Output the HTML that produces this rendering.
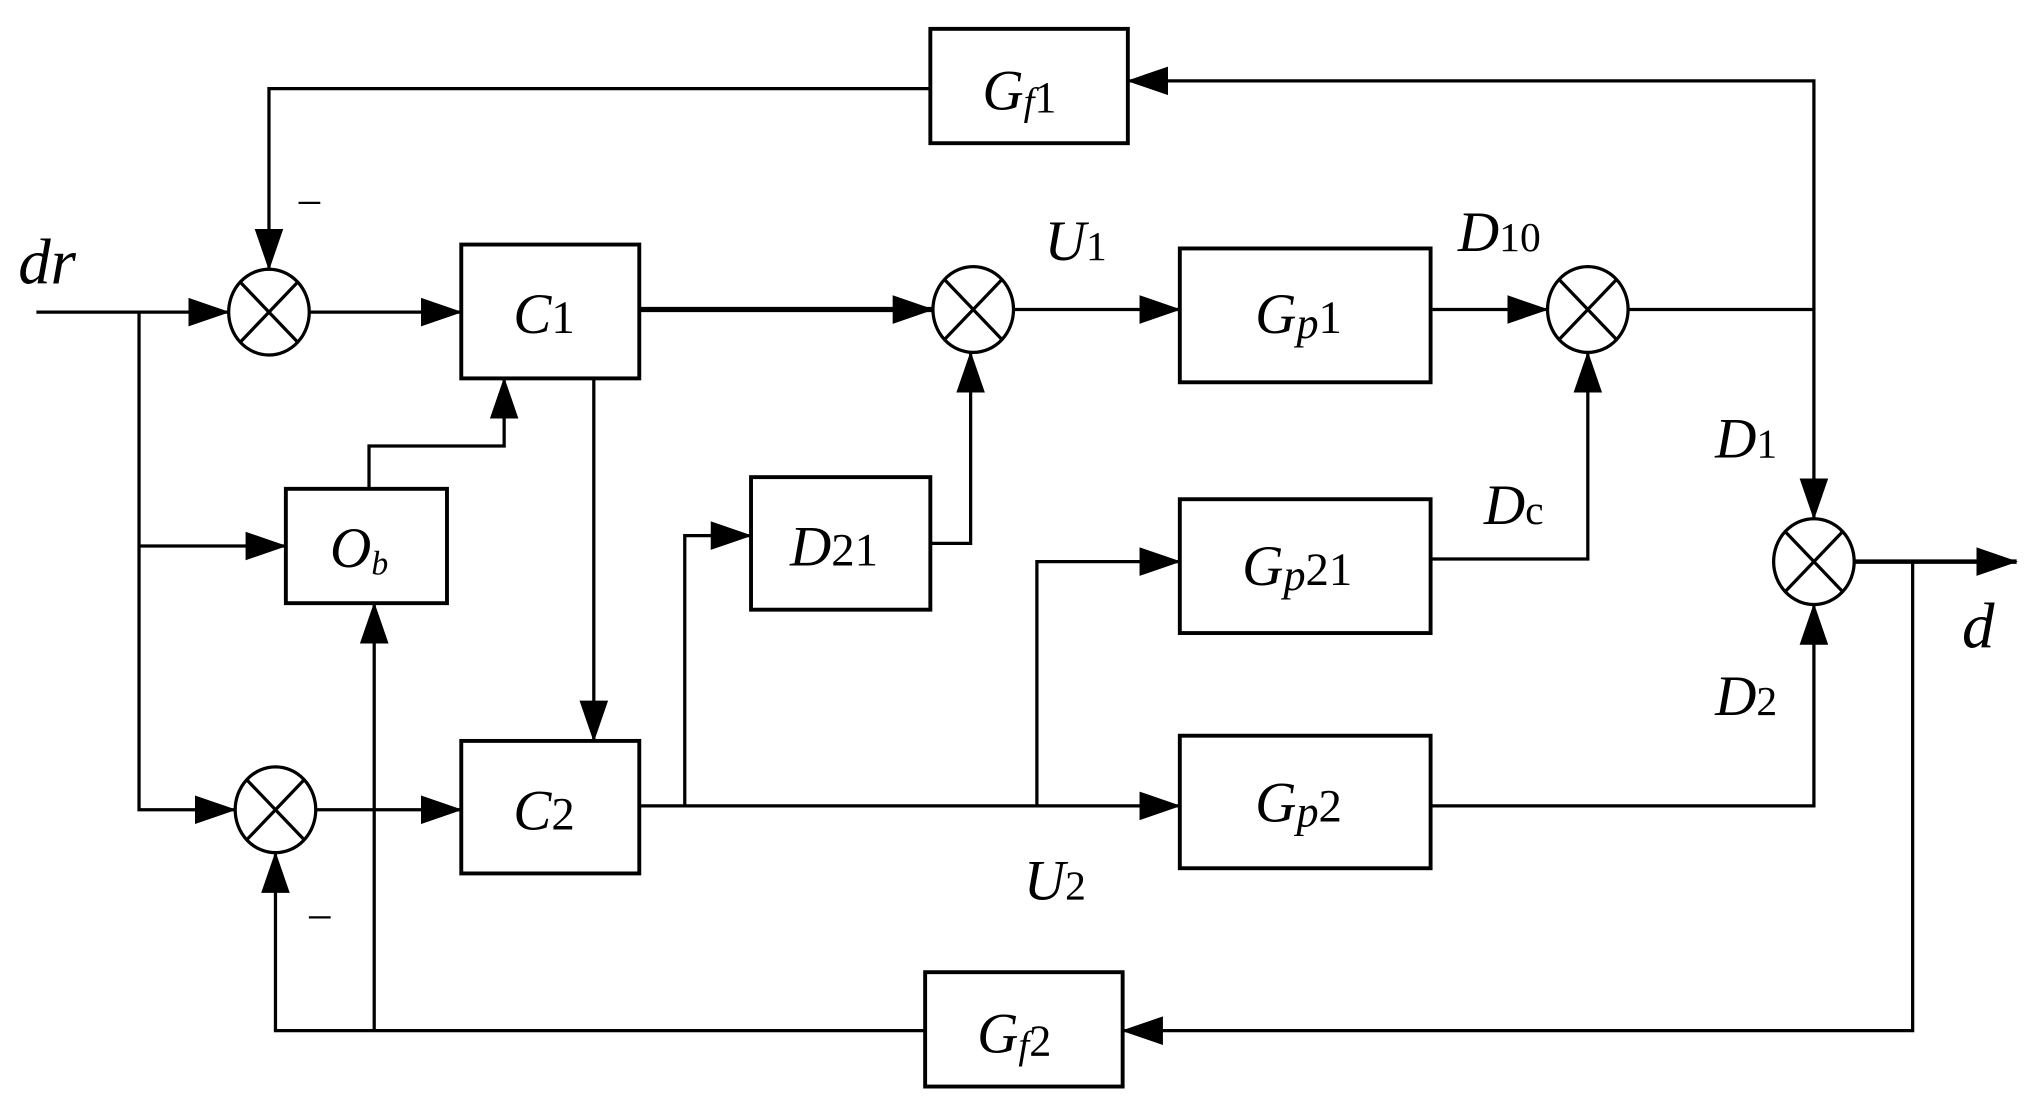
<!DOCTYPE html>
<html><head><meta charset="utf-8"><style>
html,body{margin:0;padding:0;background:#fff}
svg{display:block}
text{font-family:"Liberation Serif",serif;fill:#000}
.i{font-style:italic}
</style></head><body>
<svg width="2027" height="1105" viewBox="0 0 1560 850" xmlns="http://www.w3.org/2000/svg">
<defs>
<marker id="a" markerWidth="32" markerHeight="22" refX="31" refY="11" orient="auto" markerUnits="userSpaceOnUse">
<path d="M0,0 L32,11 L0,22 Z" fill="#000"/></marker>
</defs>
<g fill="none" stroke="#000" stroke-width="3">
<!-- boxes -->
<rect x="716" y="22" width="152" height="88"/>
<rect x="712" y="748" width="152" height="88"/>
<rect x="355" y="188" width="137" height="103"/>
<rect x="355" y="570" width="137" height="102"/>
<rect x="220" y="376" width="124" height="88"/>
<rect x="578" y="367" width="138" height="102"/>
<rect x="908" y="191" width="193" height="103"/>
<rect x="908" y="384" width="193" height="103"/>
<rect x="908" y="566" width="193" height="102"/>
</g>
<g fill="none" stroke="#000" stroke-width="2.5">
<!-- summers -->
<g id="s1"><ellipse cx="207" cy="240" rx="31" ry="33"/><path d="M185,217 L229,263 M229,217 L185,263"/></g>
<ellipse cx="212" cy="623" rx="31" ry="33"/><path d="M190,600 L234,646 M234,600 L190,646"/>
<ellipse cx="749" cy="238" rx="31" ry="33"/><path d="M727,215 L771,261 M771,215 L727,261"/>
<ellipse cx="1222" cy="238" rx="31" ry="33"/><path d="M1200,215 L1244,261 M1244,215 L1200,261"/>
<ellipse cx="1396" cy="432" rx="31" ry="33"/><path d="M1374,409 L1418,455 M1418,409 L1374,455"/>
</g>
<g fill="none" stroke="#000" stroke-width="2.5">
<path d="M28,240 L176,240" marker-end="url(#a)"/>
<path d="M107,240 L107,623 L181,623" marker-end="url(#a)"/>
<path d="M107,420 L220,420" marker-end="url(#a)"/>
<path d="M238,240 L355,240" marker-end="url(#a)"/>
<path d="M716,68 L207,68 L207,207" marker-end="url(#a)"/>
<path d="M492,238 L718,238" stroke-width="4" marker-end="url(#a)"/>
<path d="M780,238 L908,238" marker-end="url(#a)"/>
<path d="M1101,238 L1191,238" marker-end="url(#a)"/>
<path d="M1253,238 L1396,238 L1396,399" marker-end="url(#a)"/>
<path d="M1396,238 L1396,62 L868,62" marker-end="url(#a)"/>
<path d="M1427,432 L1552,432" stroke-width="3.5" marker-end="url(#a)"/>
<path d="M1472,432 L1472,793 L864,793" marker-end="url(#a)"/>
<path d="M712,793 L212,793 L212,656" marker-end="url(#a)"/>
<path d="M288,793 L288,464" marker-end="url(#a)"/>
<path d="M284,376 L284,343 L388,343 L388,291" marker-end="url(#a)"/>
<path d="M457,291 L457,570" marker-end="url(#a)"/>
<path d="M243,623 L355,623" marker-end="url(#a)"/>
<path d="M492,620 L908,620" marker-end="url(#a)"/>
<path d="M527,620 L527,412 L578,412" marker-end="url(#a)"/>
<path d="M798,620 L798,432 L908,432" marker-end="url(#a)"/>
<path d="M716,418 L747,418 L747,271" marker-end="url(#a)"/>
<path d="M1101,430 L1222,430 L1222,271" marker-end="url(#a)"/>
<path d="M1101,620 L1396,620 L1396,465" marker-end="url(#a)"/>
</g>
<g font-size="44">
<text x="756" y="84" class="i">G<tspan font-size="30" dy="4">f</tspan><tspan font-size="34" font-style="normal" dy="-2">1</tspan></text>
<text x="752" y="810" class="i">G<tspan font-size="30" dy="4">f</tspan><tspan font-size="34" font-style="normal" dy="-2">2</tspan></text>
<text x="395" y="256" class="i">C<tspan font-size="36" font-style="normal">1</tspan></text>
<text x="395" y="638" class="i">C<tspan font-size="36" font-style="normal">2</tspan></text>
<text x="254" y="436" class="i">O<tspan font-size="26" dy="6">b</tspan></text>
<text x="608" y="435" class="i">D<tspan font-size="36" font-style="normal">21</tspan></text>
<text x="966" y="256" class="i">G<tspan font-size="34" dy="4">p</tspan><tspan font-size="36" font-style="normal" dy="-4">1</tspan></text>
<text x="956" y="450" class="i">G<tspan font-size="34" dy="4">p</tspan><tspan font-size="36" font-style="normal" dy="-4">21</tspan></text>
<text x="966" y="632" class="i">G<tspan font-size="34" dy="4">p</tspan><tspan font-size="36" font-style="normal" dy="-4">2</tspan></text>
<text x="14" y="218" class="i" font-size="50">dr</text>
<text x="1510" y="498" class="i" font-size="50">d</text>
<text x="804" y="200" class="i">U<tspan font-size="32" font-style="normal">1</tspan></text>
<text x="788" y="692" class="i">U<tspan font-size="32" font-style="normal">2</tspan></text>
<text x="1122" y="193" class="i">D<tspan font-size="32" font-style="normal">10</tspan></text>
<text x="1142" y="403" class="i">D<tspan font-size="32" font-style="normal">c</tspan></text>
<text x="1320" y="352" class="i">D<tspan font-size="32" font-style="normal">1</tspan></text>
<text x="1320" y="550" class="i">D<tspan font-size="32" font-style="normal">2</tspan></text>
<text x="228" y="168" font-size="36">−</text>
<text x="236" y="718" font-size="36">−</text>
</g>
</svg>
</body></html>
